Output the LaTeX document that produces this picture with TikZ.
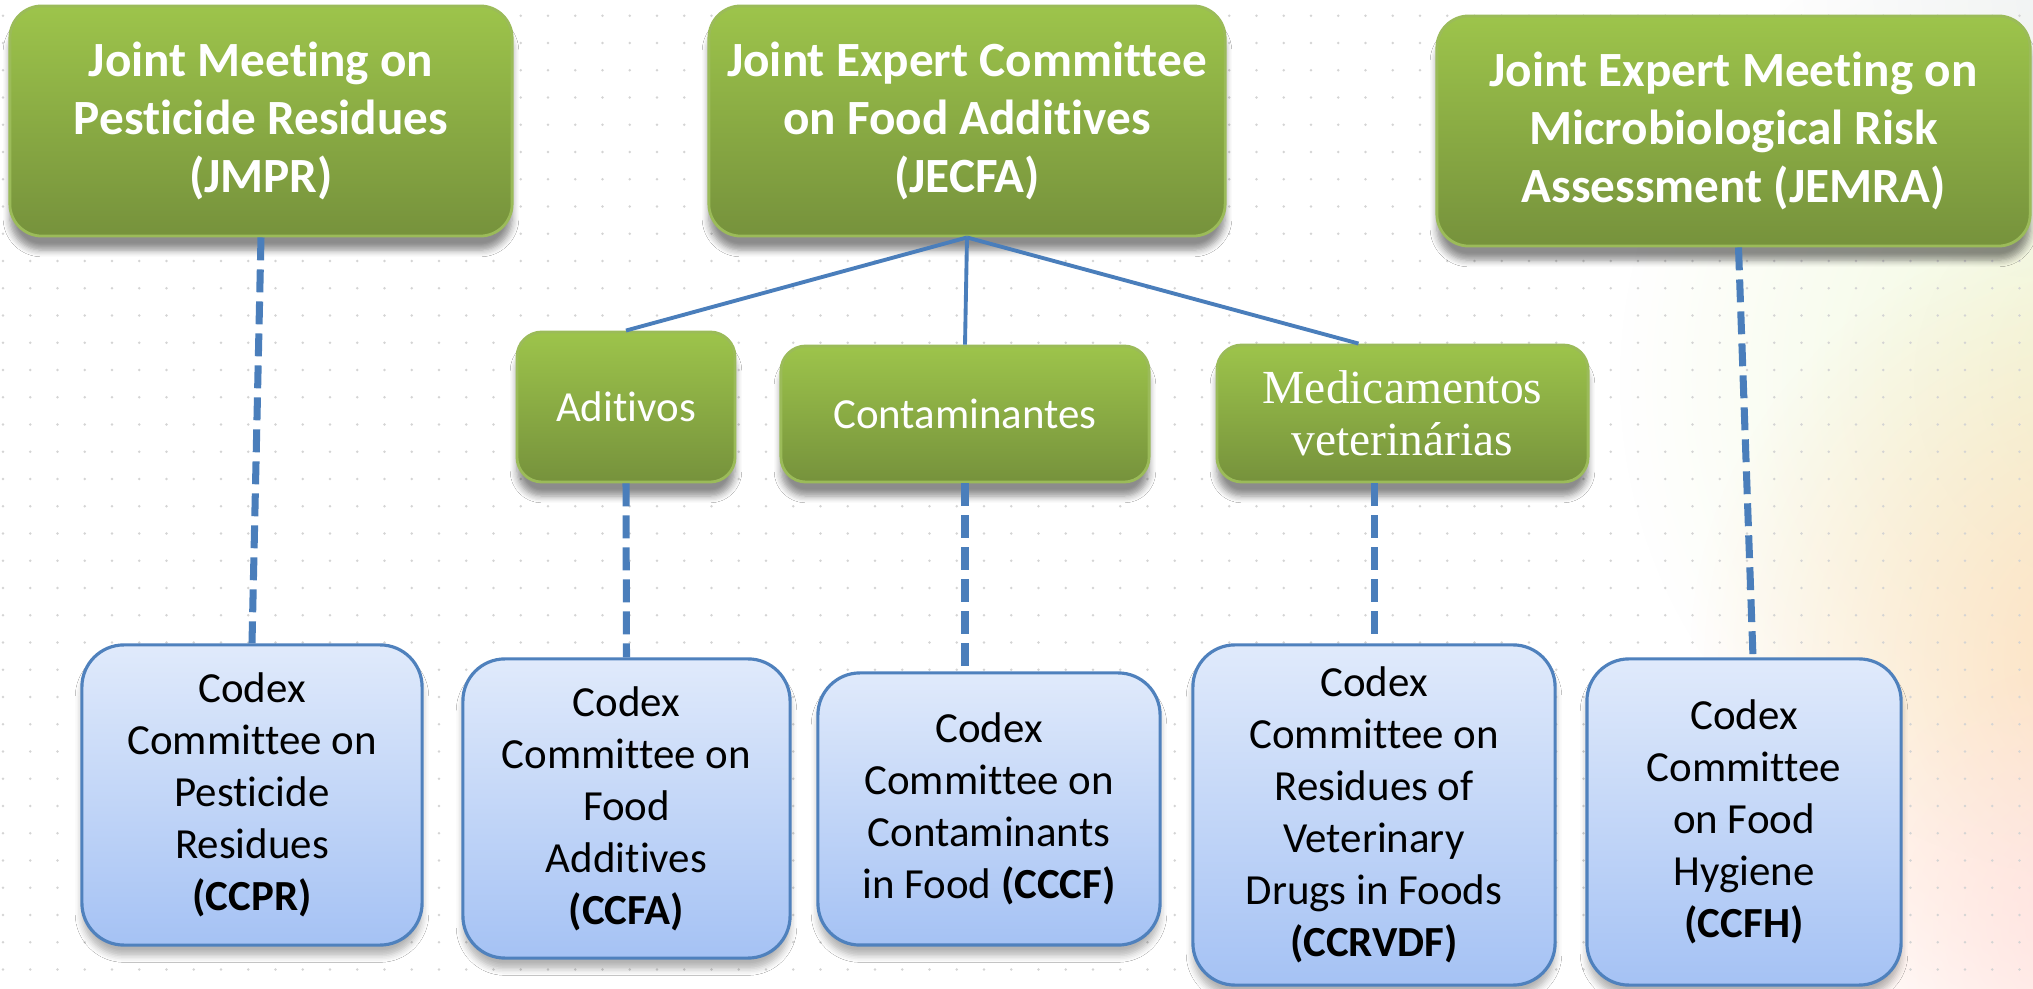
\documentclass[tikz,border=0pt]{standalone}
\usepackage{fontspec}
\usepackage{tikz}
\usepackage{xcolor}
\setmainfont[Ligatures=NoCommon]{Carlito}
\newfontfamily\medfont{Liberation Serif}
\usetikzlibrary{calc,fadings,shadows,shadows.blur}

\definecolor{grtop}{HTML}{9DC44B}
\definecolor{grbot}{HTML}{76923C}
\definecolor{grline}{HTML}{9BBB59}
\definecolor{bltop}{HTML}{E0EAFB}
\definecolor{blbot}{HTML}{A5C2F4}
\definecolor{blline}{HTML}{4F81BD}
\definecolor{linkblue}{HTML}{4A7EBB}
\definecolor{dotgrey}{HTML}{D4D4D4}

\tikzfading[name=softspot, inner color=transparent!15, outer color=transparent!100]

\begin{document}
\begin{tikzpicture}[x=0.01cm, y=-0.01cm,
  topbox/.style={rectangle, rounded corners=0.32cm, draw=grline, line width=0.8pt,
    top color=grtop, bottom color=grbot, text=white, align=center,
    font=\fontsize{14}{16.5}\selectfont\bfseries,
    blur shadow={shadow xshift=0pt, shadow yshift=-4pt, shadow opacity=45, shadow blur steps=6}},
  subbox/.style={topbox, rounded corners=0.25cm, font=\fontsize{12.2}{14.8}\selectfont},
  codexbox/.style={rectangle, rounded corners=0.42cm, draw=blline, line width=0.9pt,
    top color=bltop, bottom color=blbot, text=black, align=center,
    font=\fontsize{12.2}{14.8}\selectfont,
    blur shadow={shadow xshift=0pt, shadow yshift=-3pt, shadow opacity=30, shadow blur steps=5}},
  link/.style={draw=linkblue, line width=1.1pt},
  dashlink/.style={draw=linkblue, line width=2pt, dash pattern=on 6.5pt off 2.6pt}]

  \useasboundingbox (0,0) rectangle (2033,989);
  \fill[white] (0,0) rectangle (2033,989);

  \fill[gray!20!blue!6, path fading=softspot] (2060,0) circle (280);
  \fill[yellow!60!green!18, path fading=softspot] (2120,380) circle (500);
  \fill[orange!28, path fading=softspot] (2130,660) circle (440);
  \fill[red!12, path fading=softspot] (2100,920) circle (260);

  \foreach \i in {0,...,74}
    \foreach \j in {0,...,35}
      \fill[dotgrey] (3+27.25*\i, 15.75+27.25*\j) circle (1.3);

  \node[topbox, minimum width=5.02cm, minimum height=2.30cm] (jmpr) at (261,121)
    {Joint Meeting on\\Pesticide Residues\\(JMPR)};
  \node[topbox, minimum width=5.16cm, minimum height=2.30cm] (jecfa) at (967,121)
    {Joint Expert Committee\\on Food Additives\\(JECFA)};
  \node[topbox, minimum width=5.93cm, minimum height=2.30cm] (jemra) at (1733.5,131)
    {Joint Expert Meeting on\\Microbiological Risk\\Assessment (JEMRA)};

  \node[subbox, minimum width=2.18cm, minimum height=1.50cm] (aditivos) at (626,407) {Aditivos};
  \node[subbox, minimum width=3.68cm, minimum height=1.36cm] (contam) at (965,414) {Contaminantes};
  \node[subbox, minimum width=3.71cm, minimum height=1.37cm, font=\medfont\fontsize{13.5}{14.8}\selectfont]
    (medic) at (1402.5,413.5) {Medicamentos\\veterinárias};

  \node[codexbox, minimum width=3.40cm, minimum height=3.00cm] (ccpr) at (252,795)
    {Codex\\Committee on\\Pesticide\\Residues\\\textbf{(CCPR)}};
  \node[codexbox, minimum width=3.27cm, minimum height=2.99cm] (ccfa) at (626.5,808.5)
    {Codex\\Committee on\\Food\\Additives\\\textbf{(CCFA)}};
  \node[codexbox, minimum width=3.42cm, minimum height=2.72cm] (cccf) at (989,809)
    {Codex\\Committee on\\Contaminants\\in Food \textbf{(CCCF)}};
  \node[codexbox, minimum width=3.62cm, minimum height=3.40cm] (ccrvdf) at (1374,815)
    {Codex\\Committee on\\Residues of\\Veterinary\\Drugs in Foods\\\textbf{(CCRVDF)}};
  \node[codexbox, minimum width=3.14cm, minimum height=3.26cm] (ccfh) at (1744,822)
    {Codex\\Committee\\on Food\\Hygiene\\\textbf{(CCFH)}};

  \draw[link] (jecfa.south) -- (aditivos.north);
  \draw[link] (jecfa.south) -- (contam.north);
  \draw[link] (jecfa.south) -- ($(medic.north)+(-44,0)$);

  \draw[dashlink] (jmpr.south) -- (ccpr.north);
  \draw[dashlink] (aditivos.south) -- (ccfa.north);
  \draw[dashlink] (contam.south) -- (contam.south |- cccf.north);
  \draw[dashlink] (ccrvdf.north |- medic.south) -- (ccrvdf.north);
  \draw[dashlink] ($(jemra.south)+(5,0)$) -- ($(ccfh.north)+(9,0)$);
\end{tikzpicture}
\end{document}
